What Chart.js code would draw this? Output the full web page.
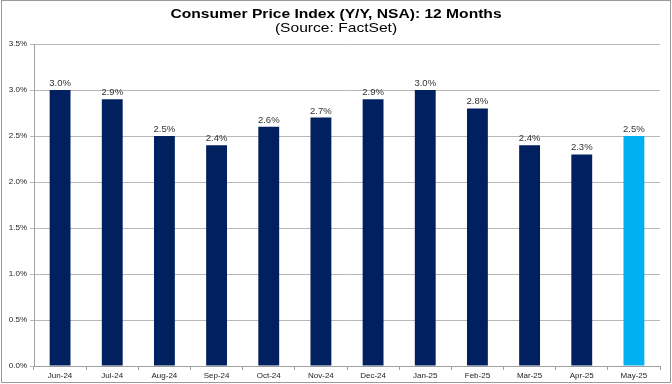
<!DOCTYPE html>
<html><head><meta charset="utf-8">
<script src="https://cdn.jsdelivr.net/npm/chart.js@4/dist/chart.umd.min.js"></script>
<style>html,body{margin:0;padding:0;background:#fff}#w{width:672px;height:384px;position:relative}</style>
</head><body><div id="w"><canvas id="c" width="672" height="384"></canvas></div>
<script>
const categories = ["Jun-24","Jul-24","Aug-24","Sep-24","Oct-24","Nov-24","Dec-24","Jan-25","Feb-25","Mar-25","Apr-25","May-25"];
const cpiValues = [3.0,2.9,2.5,2.4,2.6,2.7,2.9,3.0,2.8,2.4,2.3,2.5];
const yTicks = [0,0.5,1.0,1.5,2.0,2.5,3.0,3.5];
const titleText = "Consumer Price Index (Y/Y, NSA): 12 Months";
const subtitleText = "(Source: FactSet)";

const barColors = cpiValues.map((v,i)=> i===cpiValues.length-1 ? "#00B0F0" : "#002060");
const FONT = "'Liberation Sans', Arial, sans-serif";

const deco = {
  id:'deco',
  afterDraw(chart){
    const ctx = chart.ctx;
    ctx.save();
    ctx.fillStyle = '#000';
    ctx.textAlign = 'center';
    ctx.textBaseline = 'middle';
    ctx.save();
    ctx.translate(336, 14);
    ctx.scale(1.2, 1);
    ctx.font = "bold 13px " + FONT;
    ctx.fillText(titleText, 0, 0);
    ctx.restore();
    ctx.save();
    ctx.translate(336, 28.5);
    ctx.scale(1.2, 1);
    ctx.font = "13px " + FONT;
    ctx.fillText(subtitleText, 0, 0);
    ctx.restore();
    // data labels
    const meta = chart.getDatasetMeta(0);
    ctx.font = "9.5px " + FONT;
    ctx.fillStyle = '#333';
    ctx.textBaseline = 'alphabetic';
    meta.data.forEach((bar,i)=>{
      ctx.fillText(cpiValues[i].toFixed(1)+'%', bar.x, bar.y-4);
    });
    ctx.strokeStyle = '#9a9a9a';
    ctx.lineWidth = 1;
    ctx.strokeRect(1.5,0.5,669,382);
    ctx.restore();
  }
};

new Chart(document.getElementById('c'), {
  type:'bar',
  data:{labels:categories, datasets:[{data:cpiValues, backgroundColor:barColors, barPercentage:0.8, categoryPercentage:0.5}]},
  options:{
    responsive:false, animation:false,
    layout:{padding:{top:44, right:12, left:0, bottom:0}},
    plugins:{legend:{display:false}, tooltip:{enabled:false}},
    scales:{
      x:{
        grid:{display:true, offset:true, drawOnChartArea:false, drawTicks:true, tickLength:4, color:'#a0a0a0'},
        border:{display:true, color:'#a0a0a0'},
        ticks:{font:{family:FONT, size:8}, color:'#222', padding:1, maxRotation:0, autoSkip:false},
        afterFit(s){ s.height = 18; }
      },
      y:{
        min:0, max:3.5,
        afterBuildTicks(s){ s.ticks = yTicks.map(v=>({value:v})); },
        grid:{color:'#b8b8b8', tickLength:4, drawTicks:true},
        border:{display:true, color:'#a0a0a0'},
        ticks:{font:{family:FONT, size:8}, color:'#222', padding:3, callback:v=>Number(v).toFixed(1)+'%'},
        afterFit(s){ s.width = 34; }
      }
    }
  },
  plugins:[deco]
});
</script></body></html>
